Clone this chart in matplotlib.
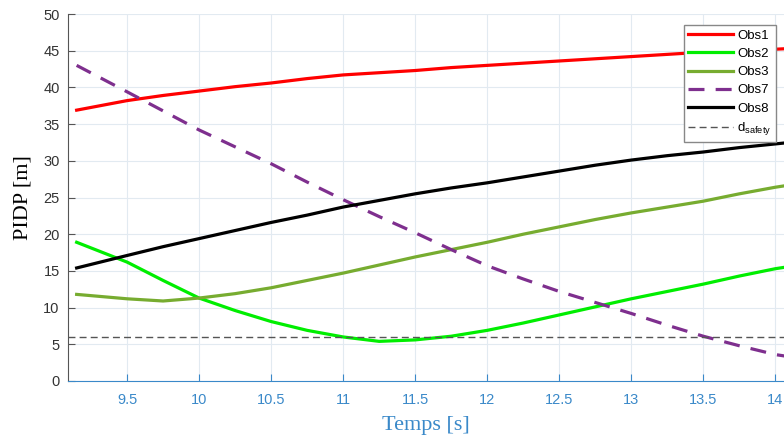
import numpy as np
import matplotlib.pyplot as plt

# temps [s]
t = [9.15, 9.5, 9.75, 10.0, 10.25, 10.5, 10.75, 11.0, 11.25, 11.5, 11.75, 12.0,
     12.25, 12.5, 12.75, 13.0, 13.25, 13.5, 13.75, 14.0, 14.1]

obs1 = [36.9, 38.2, 38.9, 39.5, 40.1, 40.6, 41.2, 41.7, 42.0, 42.3, 42.7, 43.0,
        43.3, 43.6, 43.9, 44.2, 44.5, 44.8, 45.0, 45.2, 45.3]
obs2 = [18.9, 16.2, 13.7, 11.3, 9.6, 8.1, 6.9, 6.0, 5.4, 5.6, 6.1, 6.9,
        7.9, 9.0, 10.1, 11.2, 12.2, 13.2, 14.3, 15.3, 15.6]
obs3 = [11.8, 11.2, 10.9, 11.3, 11.9, 12.7, 13.7, 14.7, 15.8, 16.9, 17.9, 18.9,
        20.0, 21.0, 22.0, 22.9, 23.7, 24.5, 25.5, 26.4, 26.7]
obs7 = [43.0, 39.4, 36.8, 34.2, 31.9, 29.6, 27.1, 24.7, 22.4, 20.2, 17.9, 15.7,
        13.9, 12.2, 10.7, 9.2, 7.6, 6.1, 4.8, 3.6, 3.3]
obs8 = [15.4, 17.1, 18.3, 19.4, 20.5, 21.6, 22.6, 23.7, 24.6, 25.5, 26.3, 27.0,
        27.8, 28.6, 29.4, 30.1, 30.7, 31.2, 31.8, 32.3, 32.5]
d_safety = 6

xticks = [9.5, 10, 10.5, 11, 11.5, 12, 12.5, 13, 13.5, 14]
yticks = list(range(0, 51, 5))

blue = '#3a89c9'
plt.rcParams['font.family'] = ['Liberation Sans', 'DejaVu Sans']

fig = plt.figure(figsize=(7.84, 4.43), dpi=100)
ax = fig.add_axes([68/784, 62/443, 1 - 68/784, (381-14)/443])

ax.plot(t, obs1, color='#ff0000', lw=2.3, label='Obs1')
ax.plot(t, obs2, color='#00ee00', lw=2.3, label='Obs2')
ax.plot(t, obs3, color='#77ac30', lw=2.3, label='Obs3')
ax.plot(t, obs7, color='#7e2f8e', lw=2.3, dashes=(5, 3.5), label='Obs7')
ax.plot(t, obs8, color='#000000', lw=2.3, label='Obs8')
ax.axhline(d_safety, color='#555555', lw=1.0, dashes=(5, 3), label=r'd$_{\mathregular{safety}}$')

ax.set_xlim(9.09, 14.06)
ax.set_ylim(0, 50)
ax.set_xticks(xticks)
ax.set_xticklabels([f'{v:g}' for v in xticks])
ax.set_yticks(yticks)

ax.grid(True, color='#e2eaf1', lw=0.8)
ax.set_axisbelow(True)
for s in ['top', 'right']:
    ax.spines[s].set_visible(False)
ax.spines['left'].set_color('#555555')
ax.spines['bottom'].set_color(blue)
ax.tick_params(axis='y', direction='in', length=5, colors='#555555', labelsize=10.5,
               labelcolor='#333333', pad=6)
ax.tick_params(axis='x', direction='in', length=5, colors=blue, labelsize=10.5, pad=9)

ax.set_xlabel('Temps [s]', family='Liberation Serif', fontsize=16, color=blue, labelpad=6)
ax.set_ylabel('PIDP [m]', family='Liberation Serif', fontsize=16, color='black', labelpad=8)

leg = ax.legend(loc='upper right', bbox_to_anchor=(776/784, 1 - 25/443),
                bbox_transform=fig.transFigure, borderaxespad=0, fontsize=9.5,
                handlelength=3.4, handletextpad=0.3, labelspacing=0.45, borderpad=0.35,
                fancybox=False, framealpha=1, edgecolor='#888888')
leg.get_frame().set_linewidth(1.0)

fig.savefig('out.png', dpi=100)
